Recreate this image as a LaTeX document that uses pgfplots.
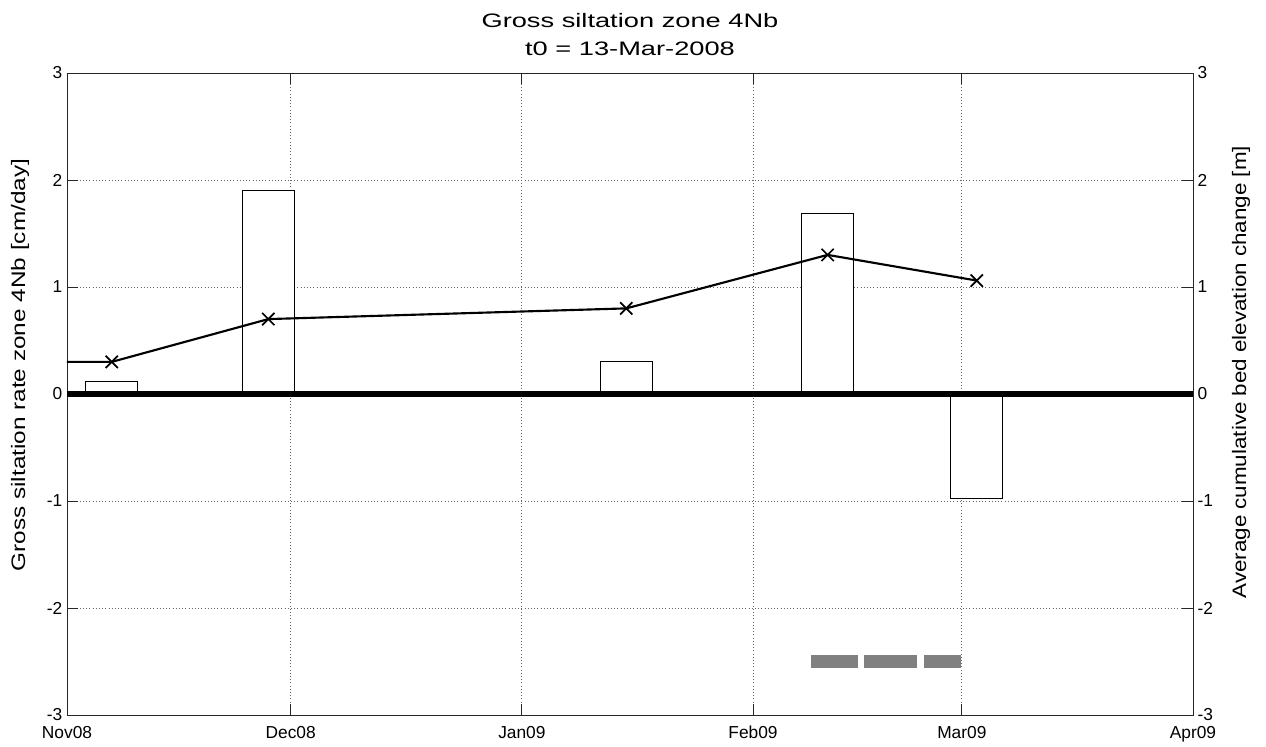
\documentclass[border=0pt]{standalone}
\usepackage{fontspec}
\setmainfont{Liberation Sans}
\newfontfamily\titlefont{Liberation Sans}[FakeStretch=1.4]
\newfontfamily\labelfont{Liberation Sans}[FakeStretch=1.25]
\newfontfamily\rlabelfont{Liberation Sans}[FakeStretch=1.15]
\usepackage{pgfplots}
\pgfplotsset{compat=1.18}
\usetikzlibrary{calc}
\begin{document}
\begin{tikzpicture}
\pgfplotsset{every axis/.append style={font=\fontsize{13}{15.6}\selectfont}}
\begin{axis}[name=ax,
  width=844.5pt, height=481.5pt, scale only axis,
  xmin=0, xmax=151, ymin=-3, ymax=3,
  axis line style={line width=0.6pt, black!85},
  tick align=inside, major tick length=8pt,
  every tick/.style={black!85, line width=0.6pt},
  xtick={0,30,61,92,120,151},
  xticklabels={Nov08,Dec08,Jan09,Feb09,Mar09,Apr09},
  xticklabel style={yshift=-5pt},
  ytick={-3,-2,-1,0,1,2,3},
  yticklabels={-3,-2,-1,0,1,2,3},
  grid=major,
  major grid style={dotted, black!60, line width=0.6pt},
  title={Gross siltation zone 4Nb\\t0 = 13-Mar-2008},
  title style={align=center, font=\titlefont\fontsize{14.6}{21}\selectfont, at={(axis description cs:0.5,1)}, anchor=south, inner sep=0pt, yshift=7pt},
  ylabel={Gross siltation rate zone 4Nb [cm/day]},
  ylabel style={at={(axis description cs:-0.0417,0.545)}, anchor=center, font=\labelfont\fontsize{14.6}{17}\selectfont},
  clip=false,
]
\addplot[ybar, bar width=7, bar shift=0pt, fill=white, draw=black, line width=0.6pt]
  coordinates {(6,0.12) (27,1.90) (75,0.30) (102,1.69) (122,-0.98)};
\addplot[black, line width=4pt] coordinates {(0,0) (151,0)};
\addplot[black, line width=1.6pt, mark=x, mark size=6.5pt, mark phase=2, mark repeat=1,
  mark options={line width=1.3pt}]
  coordinates {(0,0.30) (6,0.30) (27,0.70) (75,0.80) (102,1.30) (122,1.06)};
\addplot[black!50, line width=9.5pt] coordinates {(99.8,-2.5) (106.1,-2.5)};
\addplot[black!50, line width=9.5pt] coordinates {(106.9,-2.5) (114.0,-2.5)};
\addplot[black!50, line width=9.5pt] coordinates {(114.9,-2.5) (119.9,-2.5)};
\end{axis}
\begin{axis}[
  width=844.5pt, height=481.5pt, scale only axis,
  xmin=0, xmax=151, ymin=-3, ymax=3,
  axis x line=none, axis y line*=right,
  axis line style={line width=0.6pt, black!85, -},
  ytick={-3,-2,-1,0,1,2,3},
  yticklabels={-3,-2,-1,0,1,2,3},
  ytick style={draw=none},
  ylabel={Average cumulative bed elevation change [m]},
  ylabel style={at={(axis description cs:1.0426,0.534)}, anchor=center, rotate=0, font=\rlabelfont\fontsize{14.6}{17}\selectfont},
]
\addplot[draw=none] coordinates {(0,0)};
\end{axis}
\path ($(ax.south west)+(-50.25pt,-22.5pt)$) rectangle ($(ax.north east)+(54.75pt,54.75pt)$);
\end{tikzpicture}
\end{document}
